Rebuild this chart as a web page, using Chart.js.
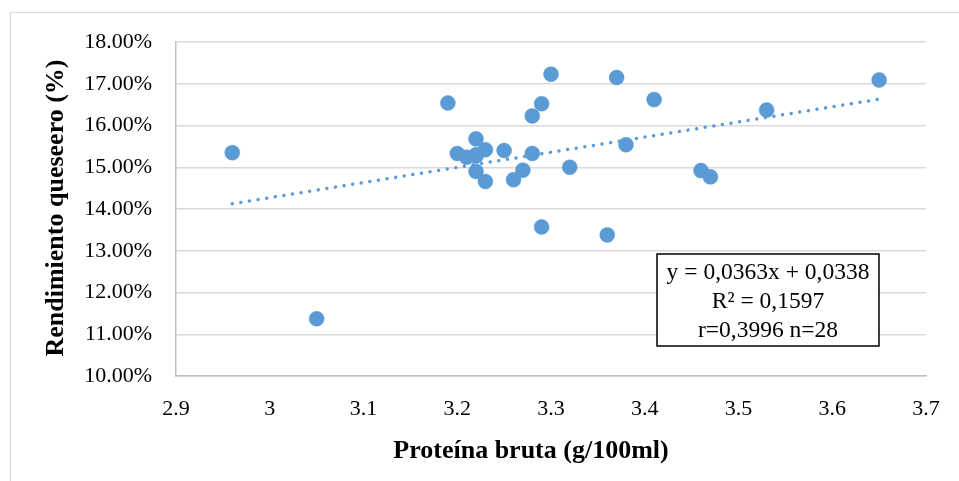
<!DOCTYPE html>
<html>
<head>
<meta charset="utf-8">
<script src="https://cdn.jsdelivr.net/npm/chart.js@4.4.1/dist/chart.umd.min.js"></script>
<style>
  body { margin: 0; background: #fff; overflow: hidden; }
  #wrap { position: relative; width: 959px; height: 481px; overflow: hidden; }
  #frame { position: absolute; left: 10px; top: 12px; width: 1000px; height: 500px;
           border-left: 1.5px solid #d9d9d9; border-top: 1.5px solid #d9d9d9; }
  canvas { position: absolute; left: 0; top: 0; }
</style>
</head>
<body>
<div id="wrap">
  <div id="frame"></div>
  <canvas id="rendChart" width="959" height="481"></canvas>
</div>
<script>
// proteína bruta (g/100ml) vs rendimiento queseero (fracción)
const protein = [2.96, 3.05, 3.19, 3.20, 3.21, 3.22, 3.22, 3.22, 3.22, 3.23, 3.23, 3.25, 3.26, 3.27,
                 3.28, 3.28, 3.29, 3.29, 3.30, 3.32, 3.36, 3.37, 3.38, 3.41, 3.46, 3.47, 3.53, 3.65];
const yieldPct = [0.1535, 0.1137, 0.1654, 0.1533, 0.1524, 0.1568, 0.1527, 0.1530, 0.1490, 0.1542, 0.1466, 0.1540, 0.1470, 0.1493,
                  0.1623, 0.1533, 0.1652, 0.1357, 0.1723, 0.1500, 0.1338, 0.1715, 0.1554, 0.1662, 0.1492, 0.1477, 0.1637, 0.1709];

// trendline from the equation shown in the chart
const slope = 0.0363;
const intercept = 0.0338;
const trendX = [2.96, 3.65];

const xTickLabels = ["2.9", "3", "3.1", "3.2", "3.3", "3.4", "3.5", "3.6", "3.7"];
const yTickLabels = ["10.00%", "11.00%", "12.00%", "13.00%", "14.00%", "15.00%", "16.00%", "17.00%", "18.00%"];
const boxLines = ["y = 0,0363x + 0,0338", "R\u00b2 = 0,1597", "r=0,3996 n=28"];

const serif = "'Liberation Serif', 'Times New Roman', serif";
const blue = "#5B9BD5";

const points = protein.map((p, i) => ({ x: p, y: yieldPct[i] }));
const trend = trendX.map(x => ({ x: x, y: slope * x + intercept }));

const extras = {
    id: "extras",
    afterDraw(chart) {
        const ctx = chart.ctx;
        ctx.save();
        ctx.fillStyle = "#000";
        ctx.textAlign = "center";
        ctx.textBaseline = "middle";
        // axis titles
        ctx.font = "bold 26px " + serif;
        ctx.fillText("Proteína bruta (g/100ml)", 531, 451);
        ctx.translate(56, 208);
        ctx.rotate(-Math.PI / 2);
        ctx.fillText("Rendimiento queseero (%)", 0, 0);
        ctx.restore();

        // equation box
        ctx.save();
        ctx.fillStyle = "#fff";
        ctx.fillRect(657, 254, 222, 92);
        ctx.strokeStyle = "#000";
        ctx.lineWidth = 1.5;
        ctx.strokeRect(657, 254, 222, 92);
        ctx.fillStyle = "#000";
        ctx.font = "23.5px " + serif;
        ctx.textAlign = "center";
        ctx.textBaseline = "middle";
        boxLines.forEach((t, i) => ctx.fillText(t, 768, 273 + i * 29));
        ctx.restore();
    }
};

new Chart(document.getElementById("rendChart"), {
    type: "scatter",
    data: {
        datasets: [{
            type: "line",
            data: trend,
            borderColor: blue,
            borderWidth: 3.5,
            borderCapStyle: "round",
            borderDash: [0.01, 8.7],
            pointRadius: 0,
            fill: false,
            order: 0
        }, {
            data: points,
            backgroundColor: blue,
            borderColor: blue,
            borderWidth: 0.5,
            pointRadius: 7.5,
            pointHoverRadius: 7.5,
            order: 1
        }]
    },
    options: {
        responsive: false,
        animation: false,
        events: [],
        layout: { padding: { top: 42, right: 33, left: 0, bottom: 0 } },
        plugins: { legend: { display: false }, tooltip: { enabled: false } },
        scales: {
            x: {
                type: "linear",
                min: 2.9,
                max: 3.7,
                afterFit: s => { s.height = 105; },
                afterBuildTicks: s => { s.ticks = xTickLabels.map(t => ({ value: parseFloat(t) })); },
                ticks: {
                    callback: (v, i) => xTickLabels[i],
                    color: "#000",
                    font: { family: serif, size: 22 },
                    padding: 12,
                    maxRotation: 0
                },
                grid: { display: false },
                border: { display: true, color: "#bfbfbf", width: 1.5 }
            },
            y: {
                min: 0.10,
                max: 0.18,
                afterFit: s => { s.width = 176; },
                afterBuildTicks: s => { s.ticks = yTickLabels.map(t => ({ value: parseFloat(t) / 100 })); },
                ticks: {
                    callback: (v, i) => yTickLabels[i],
                    color: "#000",
                    font: { family: serif, size: 22 },
                    padding: 24
                },
                grid: { color: "#d9d9d9", lineWidth: 1.5, drawTicks: false },
                border: { display: true, color: "#bfbfbf", width: 1.5 }
            }
        }
    },
    plugins: [extras]
});
</script>
</body>
</html>
